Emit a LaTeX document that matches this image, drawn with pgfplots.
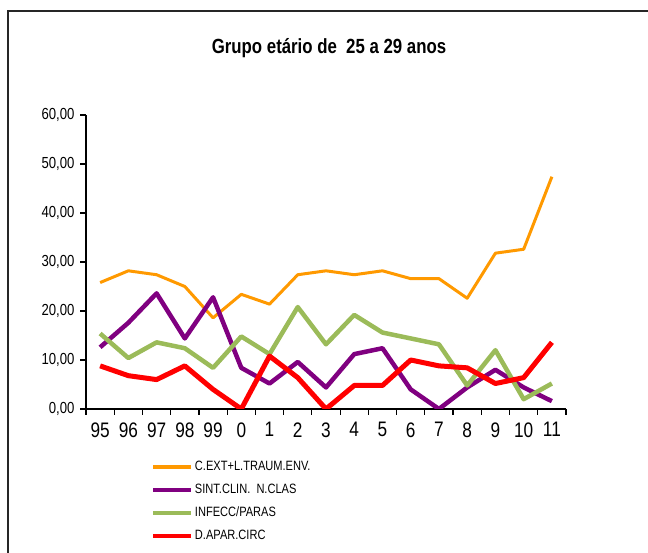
\documentclass[border=0pt]{standalone}
\usepackage{fontspec}
\setmainfont{Liberation Sans}[FakeStretch=0.82]
\usepackage{pgfplots}
\pgfplotsset{compat=1.18}
\definecolor{cOr}{HTML}{FF9900}
\definecolor{cPu}{HTML}{800080}
\definecolor{cGr}{HTML}{9BBB59}
\definecolor{cRe}{HTML}{FF0000}
\pgfplotstableread{
x o p g r
0 25.8 12.6 15.4 8.8
1 28.2 17.6 10.4 6.8
2 27.4 23.6 13.6 6.0
3 25.0 14.4 12.4 8.8
4 18.6 22.8 8.4 4.0
5 23.4 8.4 14.8 0.0
6 21.4 5.2 11.2 10.8
7 27.4 9.6 20.8 6.4
8 28.2 4.4 13.2 0.0
9 27.4 11.2 19.2 4.8
10 28.2 12.4 15.6 4.8
11 26.6 4.0 14.4 10.0
12 26.6 0.0 13.2 8.8
13 22.6 4.4 4.8 8.4
14 31.8 8.0 12.0 5.2
15 32.6 4.4 2.0 6.4
16 47.4 1.6 5.2 13.6
}\data
\begin{document}
\begin{tikzpicture}[x=1bp,y=1bp]
\useasboundingbox (0,0) rectangle (648,553);
\draw[line width=2bp, black!85] (8,0) -- (8,542) -- (648,542);
\node[font=\bfseries\fontsize{20.5bp}{24bp}\selectfont] at (329,505) {Grupo etário de\hspace{0.45em}25 a 29 anos};
\begin{axis}[
  at={(86bp,144bp)}, anchor=south west,
  scale only axis, width=480bp, height=294bp,
  xmin=-0.5, xmax=16.5, ymin=0, ymax=60,
  axis lines*=left,
  axis line style={line width=1.5bp, black, -},
  every tick/.style={line width=1.2bp, black},
  tick align=outside,
  xtick={0,...,16},
  xticklabels={95,96,97,98,99,0,1,2,3,4,5,6,7,8,9,10,11},
  major x tick style={draw=none},
  minor xtick={-0.5,0.5,...,16.5},
  minor tick length=6bp,
  major tick length=6bp,
  ytick={0,10,...,60},
  /pgf/number format/.cd, fixed, fixed zerofill, precision=2, use comma, assume math mode=true,
  /pgfplots/.cd,
  yticklabel style={font=\fontsize{16bp}{19bp}\selectfont, xshift=-2bp},
  xticklabel style={font=\fontsize{21bp}{25bp}\selectfont, yshift=-4bp},
  legend style={draw=none, fill=none, at={(0.135,-0.17)}, anchor=north west,
    font=\fontsize{13.5bp}{16bp}\selectfont, row sep=8bp, inner sep=0pt},
  legend cell align=left,
  legend image code/.code={\draw[#1, line width=4bp] (0bp,0bp) -- (38bp,0bp);},
]
\addplot[cOr, line width=3bp, line join=round] table[x=x,y=o]{\data};
\addlegendentry{C.EXT+L.TRAUM.ENV.}
\addplot[cPu, line width=4.5bp, line join=round] table[x=x,y=p]{\data};
\addlegendentry{SINT.CLIN.\ \ N.CLAS}
\addplot[cGr, line width=4.5bp, line join=round] table[x=x,y=g]{\data};
\addlegendentry{INFECC/PARAS}
\addplot[cRe, line width=5bp, line join=round] table[x=x,y=r]{\data};
\addlegendentry{D.APAR.CIRC}
\end{axis}
\end{tikzpicture}
\end{document}
